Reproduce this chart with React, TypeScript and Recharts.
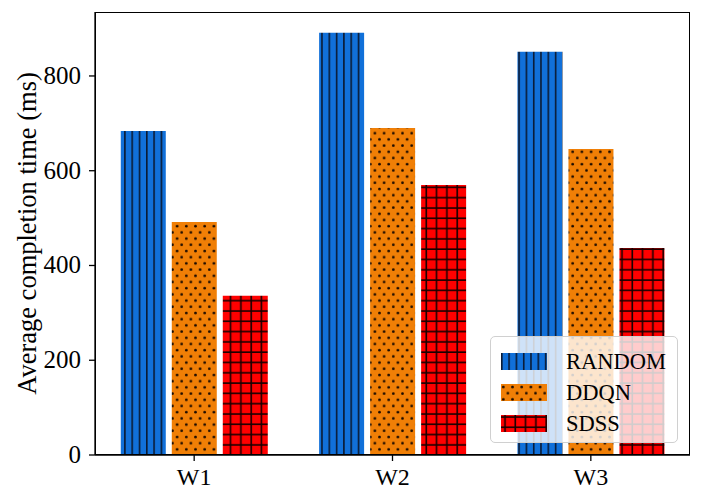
import {Bar, BarChart, Label, Legend, XAxis, YAxis} from "recharts";

const categories = ["W1", "W2", "W3"];
const randomValues = [684, 891, 851];
const ddqnValues = [492, 690, 646];
const sdssValues = [336, 570, 437];
const yTicks = [0, 200, 400, 600, 800];

const series = [
    {key: "RANDOM", values: randomValues, fill: "url(#hatchRandom)"},
    {key: "DDQN", values: ddqnValues, fill: "url(#hatchDdqn)"},
    {key: "SDSS", values: sdssValues, fill: "url(#hatchSdss)"},
];

const data = categories.map((name, i) => {
    const row: Record<string, string | number> = {name};
    series.forEach(s => {
        row[s.key] = s.values[i];
    });
    return row;
});

const FONT = "Liberation Serif";

// plot area, same numbers as the chart margins / axis sizes
const PLOT = {left: 95, top: 12, right: 11, bottom: 48};

function Patterns() {
    return (
        <defs>
            <pattern id="hatchRandom" patternUnits="userSpaceOnUse" width={7.3} height={10}>
                <rect width={7.3} height={10} fill="#1170d9"/>
                <line x1={0.8} y1={0} x2={0.8} y2={10} stroke="#0a1a33" strokeWidth={1.6}/>
            </pattern>
            <pattern id="hatchDdqn" patternUnits="userSpaceOnUse" width={9.2} height={12.4}>
                <rect width={9.2} height={12.4} fill="#f07f06"/>
                <circle cx={2.3} cy={3} r={1.35} fill="#1a0a00"/>
                <circle cx={6.9} cy={9.2} r={1.35} fill="#1a0a00"/>
            </pattern>
            <pattern id="hatchSdss" patternUnits="userSpaceOnUse" width={10.3} height={10.3}>
                <rect width={10.3} height={10.3} fill="#ff0000"/>
                <line x1={4} y1={0} x2={4} y2={10.3} stroke="#1a0000" strokeWidth={1.6}/>
                <line x1={0} y1={2} x2={10.3} y2={2} stroke="#1a0000" strokeWidth={1.6}/>
            </pattern>
        </defs>
    );
}

function XTick({x, y, payload}: any) {
    return (
        <text x={x} y={y + 22} textAnchor="middle" fontSize={24} fontFamily={FONT} fill="#000">
            {payload.value}
        </text>
    );
}

function YTick({x, y, payload}: any) {
    return (
        <text x={x - 1} y={y + 8} textAnchor="end" fontSize={25} fontFamily={FONT} fill="#000">
            {payload.value}
        </text>
    );
}

function LegendBox() {
    return (
        <div style={{
            width: 188,
            height: 107,
            boxSizing: "border-box",
            border: "1.3px solid #d0d0d0",
            borderRadius: 5,
            background: "rgba(255,255,255,0.8)",
            padding: "9px 0 0 10px",
            fontFamily: FONT,
            fontSize: 22.5,
            color: "#000",
        }}>
            {series.map(s => (
                <div key={s.key} style={{display: "flex", alignItems: "center", height: 31}}>
                    <svg width={46} height={17} style={{marginRight: 19}}>
                        <rect width={46} height={17} fill={s.fill}/>
                    </svg>
                    <span style={{lineHeight: "22px"}}>{s.key}</span>
                </div>
            ))}
        </div>
    );
}

export default function App() {
    return (
        <div style={{position: "absolute", left: 0, top: 0, width: 701, height: 503, background: "#fff"}}>
            <BarChart
                width={701}
                height={503}
                data={data}
                margin={{top: PLOT.top, right: PLOT.right, bottom: 0, left: 0}}
                barCategoryGap="13%"
                barGap={6}
            >
                <Patterns/>
                <XAxis
                    dataKey="name"
                    height={PLOT.bottom}
                    tickLine={{stroke: "#000", strokeWidth: 1.3}}
                    tickSize={6}
                    axisLine={{stroke: "#000", strokeWidth: 1.3}}
                    tick={<XTick/>}
                />
                <YAxis
                    width={PLOT.left}
                    domain={[0, 935]}
                    ticks={yTicks}
                    interval={0}
                    tickSize={6}
                    tickMargin={7}
                    tickLine={{stroke: "#000", strokeWidth: 1.3}}
                    axisLine={{stroke: "#000", strokeWidth: 1.3}}
                    tick={<YTick/>}
                >
                    <Label
                        content={({viewBox}: any) => {
                            const cy = viewBox.y + viewBox.height / 2;
                            return (
                                <text x={27} y={cy} transform={`rotate(-90 27 ${cy})`} textAnchor="middle"
                                      dominantBaseline="central" fontSize={26.5} fontFamily={FONT} fill="#000">
                                    Average completion time (ms)
                                </text>
                            );
                        }}
                    />
                </YAxis>
                {series.map(s => (
                    <Bar key={s.key} dataKey={s.key} fill={s.fill} isAnimationActive={false}/>
                ))}
                <Legend
                    layout="vertical"
                    align="center"
                    verticalAlign="middle"
                    content={() => <LegendBox/>}
                    wrapperStyle={{left: 490, top: 336, width: 188}}
                />
            </BarChart>
            {/* frame around the plot area */}
            <div style={{
                position: "absolute",
                left: PLOT.left,
                top: PLOT.top,
                right: PLOT.right,
                bottom: PLOT.bottom,
                border: "1.3px solid #000",
                pointerEvents: "none",
            }}/>
        </div>
    );
}
